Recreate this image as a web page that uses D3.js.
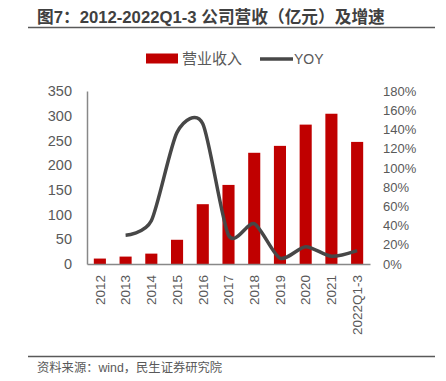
<!DOCTYPE html>
<html>
<head>
<meta charset="utf-8">
<script src="https://cdn.jsdelivr.net/npm/d3@7"></script>
<style>
  body { margin: 0; background: #fff; }
  text { font-family: "Liberation Sans", "Noto Sans CJK SC", sans-serif; }
</style>
</head>
<body>
<div class="box"></div>
<script>
// Data
const years = ["2012", "2013", "2014", "2015", "2016", "2017", "2018", "2019", "2020", "2021", "2022Q1-3"];
const revenue = [11, 15, 21, 49, 121, 160, 225, 239, 282, 304, 247];
const yoy = [null, 0.30, 0.45, 1.37, 1.46, 0.30, 0.42, 0.06, 0.18, 0.08, 0.14];
const leftTicks = [0, 50, 100, 150, 200, 250, 300, 350];
const rightTicks = [0, 0.2, 0.4, 0.6, 0.8, 1.0, 1.2, 1.4, 1.6, 1.8];

const w = 446;
const h = 381;

const svg = d3.select(".box")
    .append("svg")
    .attr("width", w)
    .attr("height", h);

// TITLE
svg.append("text")
    .attr("x", 37)
    .attr("y", 23)
    .text("图7：2012-2022Q1-3 公司营收（亿元）及增速")
    .style("font-size", "16.7px")
    .style("font-weight", "bold")
    .style("fill", "#404040");

svg.append("line")
    .attr("x1", 28).attr("x2", 435)
    .attr("y1", 27.5).attr("y2", 27.5)
    .style("stroke", "#595959")
    .style("stroke-width", 1.5);

// SCALES
const x = d3.scaleBand()
    .domain(years)
    .range([87, 370])
    .paddingInner(0.53)
    .paddingOuter(0.265);

const yLeft = d3.scaleLinear().domain([0, 350]).range([264, 91]);
const yRight = d3.scaleLinear().domain([0, 1.8]).range([264, 91]);

// BARS
svg.selectAll(".bar")
    .data(revenue)
    .enter()
    .append("rect")
    .attr("class", "bar")
    .attr("x", (d, i) => x(years[i]))
    .attr("y", d => yLeft(d))
    .attr("width", x.bandwidth())
    .attr("height", d => yLeft(0) - yLeft(d))
    .style("fill", "#C00000");

// AXES
const axisLeft = svg.append("g")
    .attr("transform", "translate(87,0)")
    .call(d3.axisLeft(yLeft).tickValues(leftTicks).tickSize(0).tickPadding(15));
axisLeft.select(".domain").style("stroke", "#888").style("stroke-width", 1.5);
axisLeft.selectAll("text")
    .style("font-size", "14.5px")
    .style("fill", "#595959");

const axisRight = svg.append("g")
    .attr("transform", "translate(370,0)")
    .call(d3.axisRight(yRight).tickValues(rightTicks).tickSize(0).tickPadding(13)
        .tickFormat(d3.format(".0%")));
axisRight.select(".domain").remove();
axisRight.selectAll("text")
    .style("font-size", "13px")
    .style("fill", "#595959");

const axisBottom = svg.append("g")
    .attr("transform", "translate(0,264)")
    .call(d3.axisBottom(x).tickSize(0).tickPadding(0));
axisBottom.select(".domain").style("stroke", "#888").style("stroke-width", 1.5);
axisBottom.selectAll("text")
    .attr("transform", "rotate(-90)")
    .attr("x", -11)
    .attr("y", 0)
    .attr("dy", "0.35em")
    .style("text-anchor", "end")
    .style("font-size", "13.5px")
    .style("fill", "#595959");

// YOY LINE (cardinal smoothing, a bit tighter than plain Catmull-Rom)
const line = d3.line()
    .defined(d => d !== null)
    .x((d, i) => x(years[i]) + x.bandwidth() / 2)
    .y(d => yRight(d))
    .curve(d3.curveCardinal.tension(0.25));

svg.append("path")
    .datum(yoy)
    .attr("d", line)
    .style("fill", "none")
    .style("stroke", "#474747")
    .style("stroke-width", 3.5);

// LEGEND
const legend = svg.append("g").attr("id", "legend");
legend.append("rect")
    .attr("x", 146).attr("y", 53.5)
    .attr("width", 32).attr("height", 10)
    .style("fill", "#C00000");
legend.append("text")
    .attr("x", 182).attr("y", 64)
    .text("营业收入")
    .style("font-size", "15px")
    .style("fill", "#595959");
legend.append("line")
    .attr("x1", 260).attr("x2", 293)
    .attr("y1", 59).attr("y2", 59)
    .style("stroke", "#474747")
    .style("stroke-width", 3.5);
legend.append("text")
    .attr("x", 294).attr("y", 64)
    .text("YOY")
    .style("font-size", "14px")
    .style("fill", "#595959");

// SOURCE
svg.append("line")
    .attr("x1", 28).attr("x2", 435)
    .attr("y1", 356.5).attr("y2", 356.5)
    .style("stroke", "#595959")
    .style("stroke-width", 1.5);

svg.append("text")
    .attr("x", 37)
    .attr("y", 372)
    .text("资料来源：wind，民生证券研究院")
    .style("font-size", "12.3px")
    .style("fill", "#595959");
</script>
</body>
</html>
